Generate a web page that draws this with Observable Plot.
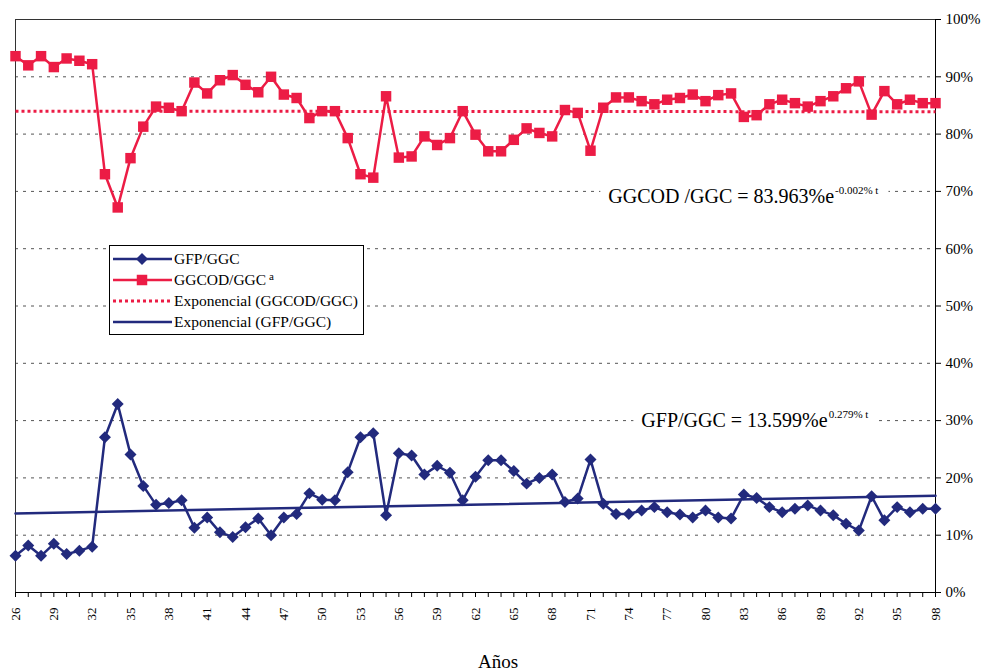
<!DOCTYPE html>
<html><head><meta charset="utf-8">
<script src="https://cdn.jsdelivr.net/npm/d3@7"></script>
<script src="https://cdn.jsdelivr.net/npm/@observablehq/plot@0.6"></script>
<style>
body{margin:0;background:#fff}
#chart{position:relative;width:985px;height:672px}
</style>
</head><body><div id="chart"></div>
<script>
const years = [26,27,28,29,30,31,32,33,34,35,36,37,38,39,40,41,42,43,44,45,46,47,48,49,50,51,52,53,54,55,56,57,58,59,60,61,62,63,64,65,66,67,68,69,70,71,72,73,74,75,76,77,78,79,80,81,82,83,84,85,86,87,88,89,90,91,92,93,94,95,96,97,98];
const ggcodGgc = [93.6,92.0,93.6,91.7,93.2,92.8,92.2,73.0,67.2,75.8,
  81.3,84.8,84.6,84.0,89.0,87.1,89.4,90.3,88.6,87.3,
  90.0,86.9,86.3,82.8,84.0,84.0,79.3,73.0,72.4,86.6,
  75.9,76.1,79.6,78.1,79.3,84.0,79.9,77.0,77.0,79.0,
  81.0,80.2,79.6,84.2,83.7,77.1,84.6,86.4,86.4,85.75,
  85.2,86.0,86.3,86.9,85.75,86.8,87.1,83.0,83.3,85.2,
  86.0,85.4,84.8,85.75,86.6,88.0,89.2,83.4,87.5,85.2,
  86.0,85.4,85.4];
const gfpGgc = [6.4,8.2,6.4,8.5,6.7,7.3,8.0,27.1,32.9,24.1,
  18.6,15.3,15.6,16.1,11.3,13.1,10.5,9.7,11.4,12.9,
  10.0,13.1,13.7,17.3,16.2,16.1,21.0,27.1,27.8,13.5,
  24.3,23.9,20.6,22.1,20.9,16.1,20.2,23.1,23.1,21.2,
  19.0,20.0,20.6,15.8,16.4,23.2,15.5,13.7,13.7,14.3,
  14.9,14.0,13.6,13.1,14.3,13.1,12.9,17.1,16.5,14.9,
  14.0,14.6,15.2,14.3,13.5,12.0,10.8,16.8,12.6,14.9,
  14.0,14.6,14.6];
const trendYears = [26, 98];
const ggcodTrend = [84.0, 83.9];
const gfpTrend = [13.8, 16.9];
const yTicks = [0,10,20,30,40,50,60,70,80,90,100];
const xLabelTicks = [26,29,32,35,38,41,44,47,50,53,56,59,62,65,68,71,74,77,80,83,86,89,92,95,98];
const legendLabels = ["GFP/GGC", "GGCOD/GGC", "Exponencial (GGCOD/GGC)", "Exponencial (GFP/GGC)"];
const eqTexts = ["GGCOD /GGC = 83.963%e", "GFP/GGC = 13.599%e"];
const eqSups = ["-0.002% t", "0.279% t"];
const eqYears = [90.1, 89.6];
const eqValues = [67.9, 28.8];
const xTitle = "Años";

const RED = "#EC1C45";
const BLUE = "#222A7D";
const FONT = "'Liberation Serif','Times New Roman',serif";

const data = years.map((y, i) => ({year: y, ggcod: ggcodGgc[i], gfp: gfpGgc[i]}));
const trendData = trendYears.map((y, i) => ({year: y, ggcod: ggcodTrend[i], gfp: gfpTrend[i]}));

const chart = Plot.plot({
  width: 985, height: 672,
  marginLeft: 15, marginRight: 50, marginTop: 19, marginBottom: 80,
  style: {fontFamily: FONT, background: "#fff", color: "#000", overflow: "visible"},
  x: {domain: [26, 98]},
  y: {domain: [0, 100]},
  marks: [
    Plot.ruleY(yTicks.filter(v => v > 0 && v < 100), {stroke: "#555", strokeDasharray: "3,5", strokeWidth: 1}),
    Plot.ruleY([100], {stroke: "#333", strokeWidth: 1}),
    Plot.ruleX([26], {stroke: "#333", strokeWidth: 1}),
    Plot.ruleX([98], {stroke: "#000", strokeWidth: 1}),
    Plot.ruleY([0], {stroke: "#000", strokeWidth: 1}),
    Plot.axisY({anchor: "right", ticks: yTicks, tickFormat: d => d + "%", tickSize: 5, tickPadding: 5, fontSize: 15, label: null}),
    Plot.axisX({ticks: years, tickFormat: () => "", tickSize: 5, label: null}),
    Plot.axisX({ticks: xLabelTicks, tickFormat: d => String(d), tickSize: 0, tickRotate: -90, tickPadding: 15, fontSize: 13, label: null}),
    Plot.line(trendData, {x: "year", y: "ggcod", stroke: RED, strokeWidth: 3, strokeDasharray: "3,3", strokeLinecap: "butt"}),
    Plot.line(data, {x: "year", y: "ggcod", stroke: RED, strokeWidth: 2.5}),
    Plot.dot(data, {x: "year", y: "ggcod", symbol: "square", r: 5.9, fill: RED, stroke: null}),
    Plot.line(data, {x: "year", y: "gfp", stroke: BLUE, strokeWidth: 2.5}),
    Plot.dot(data, {x: "year", y: "gfp", symbol: "diamond2", r: 5.4, fill: BLUE, stroke: null}),
    Plot.line(trendData, {x: "year", y: "gfp", stroke: BLUE, strokeWidth: 2.5})
  ]
});
document.getElementById("chart").appendChild(chart);

const sx = chart.scale("x"), sy = chart.scale("y");
const svg = d3.select(chart);

// equations (on white boxes that hide the gridline behind them)
eqTexts.forEach((t, i) => {
  const x = sx.apply(eqYears[i]), y = sy.apply(eqValues[i]);
  const g = svg.append("g").attr("font-family", FONT).attr("fill", "#000");
  const bg = g.append("rect").attr("fill", "#fff");
  const main = g.append("text").attr("x", x).attr("y", y).attr("text-anchor", "end")
    .attr("font-size", 20).text(t);
  const sup = g.append("text").attr("x", x + 1).attr("y", y - 9).attr("text-anchor", "start")
    .attr("font-size", 11).text(eqSups[i]);
  const b1 = main.node().getBBox(), b2 = sup.node().getBBox();
  const x0 = Math.min(b1.x, b2.x) - 8, x1 = Math.max(b1.x + b1.width, b2.x + b2.width) + 10;
  const y0 = Math.min(b1.y, b2.y), y1 = Math.max(b1.y + b1.height, b2.y + b2.height);
  bg.attr("x", x0).attr("y", y0).attr("width", x1 - x0).attr("height", y1 - y0);
});

// x title
svg.append("text").attr("x", 498).attr("y", 668).attr("text-anchor", "middle")
  .attr("font-family", FONT).attr("font-size", 19).attr("fill", "#000").text(xTitle);

// legend
const lg = svg.append("g").attr("font-family", FONT).attr("font-size", 15.5).attr("text-anchor", "start");
lg.append("rect").attr("x", 109.5).attr("y", 245.5).attr("width", 254).attr("height", 89)
  .attr("fill", "#fff").attr("stroke", "#000").attr("stroke-width", 1);
const rowY = [259, 280, 301, 322];
const styles = [
  {stroke: BLUE, dash: null, sym: "diamond"},
  {stroke: RED, dash: null, sym: "square"},
  {stroke: RED, dash: "3,3", sym: null, w: 3},
  {stroke: BLUE, dash: null, sym: null}
];
legendLabels.forEach((lab, i) => {
  const s = styles[i], y = rowY[i];
  const ln = lg.append("line").attr("x1", 113).attr("x2", 172).attr("y1", y).attr("y2", y)
    .attr("stroke", s.stroke).attr("stroke-width", s.w || 2.5);
  if (s.dash) ln.attr("stroke-dasharray", s.dash).attr("stroke-linecap", "butt");
  if (s.sym === "diamond") lg.append("path").attr("d", d3.symbol(d3.symbolDiamond2, 92)()).attr("transform", `translate(142,${y})`).attr("fill", BLUE);
  if (s.sym === "square") lg.append("path").attr("d", d3.symbol(d3.symbolSquare, 110)()).attr("transform", `translate(142,${y})`).attr("fill", RED);
  const tx = lg.append("text").attr("x", 174).attr("y", y).attr("dy", "0.35em").attr("fill", "#000").text(lab);
  if (i === 1) tx.append("tspan").attr("dy", "-0.45em").attr("font-size", 11).text(" a");
});
</script>
</body></html>
